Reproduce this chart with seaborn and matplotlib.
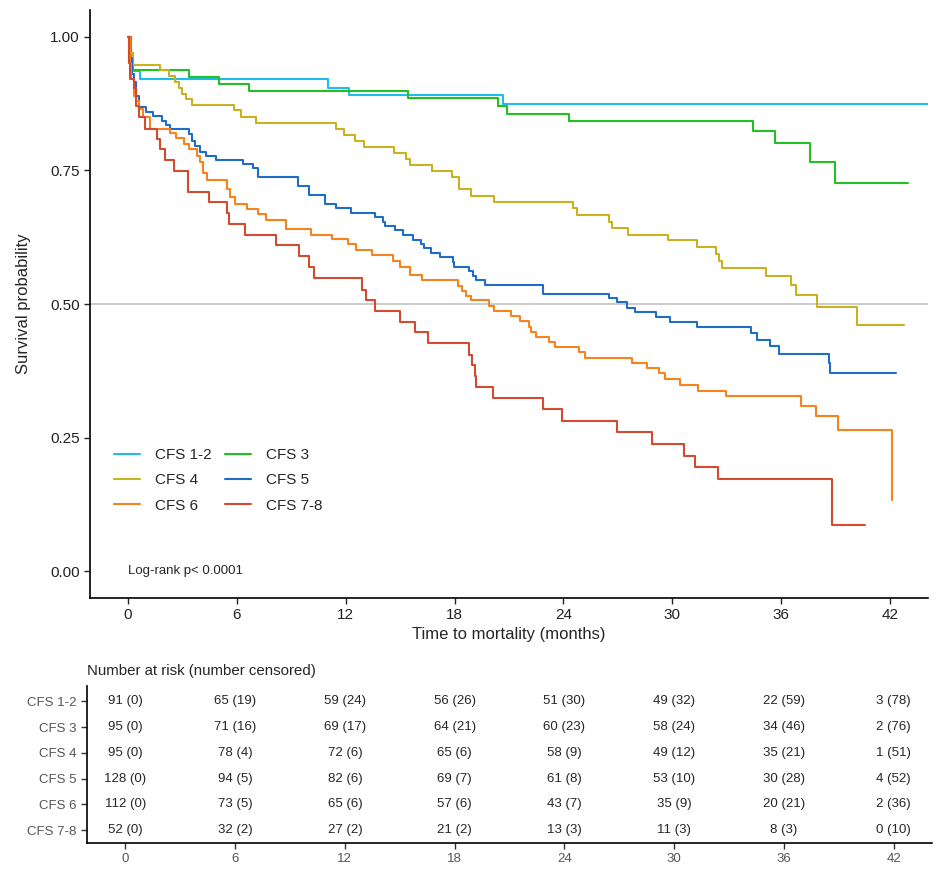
import numpy as np
import pandas as pd
import seaborn as sns
import matplotlib.pyplot as plt

groups = ["CFS 1-2", "CFS 3", "CFS 4", "CFS 5", "CFS 6", "CFS 7-8"]
colors = ["#1ebbee", "#22c022", "#c9b220", "#1f6dc4", "#f7831f", "#d24b30"]

# Kaplan-Meier steps: time of drop (months) and survival after it
t_cfs12 = [0, 0.15, 0.64, 11.0, 12.2, 20.66, 44.5]
s_cfs12 = [1.0, 0.936, 0.920, 0.905, 0.891, 0.875, 0.875]

t_cfs3 = [0, 0.18, 0.27, 3.36, 5.0, 6.64, 15.43, 20.38, 20.87, 24.33, 34.47, 35.65, 37.59, 38.97, 42.98]
s_cfs3 = [1.0, 0.969, 0.937, 0.924, 0.911, 0.898, 0.885, 0.871, 0.856, 0.842, 0.824, 0.802, 0.765, 0.7255, 0.7255]

t_cfs4 = [0, 0.1, 0.27, 1.74, 2.24, 2.57, 2.8, 2.99, 3.21, 3.52,
          5.85, 6.22, 7.03, 11.45, 11.9, 12.49, 12.99, 14.64, 15.34, 15.56,
          16.75, 17.85, 18.22, 18.88, 20.2, 24.51, 24.75, 26.53, 26.66, 27.57,
          29.79, 31.35, 32.40, 32.58, 32.73, 35.15, 36.56, 36.8, 37.99, 40.2, 42.76]
s_cfs4 = [1.0, 0.97, 0.948, 0.937, 0.926, 0.915, 0.904, 0.893, 0.884, 0.872,
          0.862, 0.850, 0.838, 0.827, 0.816, 0.805, 0.794, 0.782, 0.771, 0.760,
          0.748, 0.737, 0.715, 0.702, 0.691, 0.679, 0.667, 0.654, 0.642, 0.630,
          0.619, 0.606, 0.593, 0.580, 0.568, 0.552, 0.535, 0.517, 0.494, 0.460, 0.460]

t_cfs5 = [0, 0.1, 0.2, 0.3, 0.45, 0.6, 1.0, 1.36, 1.85, 2.1,
          2.29, 3.38, 3.52, 3.69, 3.96, 4.28, 4.84, 6.31, 6.9, 7.17,
          9.37, 9.98, 10.84, 11.48, 12.27, 13.63, 14.05, 14.14, 14.69, 15.15,
          15.7, 16.16, 16.3, 16.71, 17.17, 17.9, 17.99, 18.82, 19.0, 19.2,
          19.65, 22.9, 26.49, 26.98, 27.5, 27.96, 29.1, 29.87, 31.35, 34.32,
          34.69, 35.37, 35.88, 38.63, 38.7, 42.36]
s_cfs5 = [1.0, 0.96, 0.93, 0.915, 0.89, 0.868, 0.859, 0.851, 0.842, 0.834,
          0.827, 0.818, 0.805, 0.795, 0.785, 0.777, 0.769, 0.762, 0.754, 0.737,
          0.721, 0.704, 0.688, 0.679, 0.671, 0.662, 0.653, 0.646, 0.638, 0.629,
          0.620, 0.612, 0.604, 0.596, 0.587, 0.578, 0.570, 0.562, 0.552, 0.544,
          0.535, 0.519, 0.512, 0.503, 0.493, 0.485, 0.476, 0.467, 0.457, 0.446,
          0.433, 0.421, 0.407, 0.390, 0.370, 0.370]

t_cfs6 = [0, 0.08, 0.15, 0.3, 0.45, 0.6, 0.8, 1.19, 2.31, 2.64,
          3.08, 3.37, 3.78, 3.96, 4.15, 4.33, 5.43, 5.61, 5.89, 6.53,
          7.17, 7.63, 8.73, 10.1, 11.24, 12.12, 12.58, 13.46, 14.6, 15.0,
          15.52, 16.21, 18.18, 18.42, 18.64, 18.91, 19.9, 20.2, 21.12, 21.63,
          22.09, 22.2, 22.49, 23.22, 23.55, 24.88, 25.21, 27.78, 28.63, 29.28,
          29.61, 30.42, 31.44, 32.95, 37.11, 37.9, 39.13, 42.12]
s_cfs6 = [1.0, 0.95, 0.921, 0.890, 0.880, 0.865, 0.850, 0.827, 0.820, 0.810,
          0.799, 0.790, 0.777, 0.765, 0.746, 0.732, 0.715, 0.700, 0.687, 0.677,
          0.668, 0.657, 0.640, 0.629, 0.621, 0.612, 0.601, 0.591, 0.580, 0.570,
          0.555, 0.544, 0.533, 0.524, 0.515, 0.507, 0.497, 0.486, 0.478, 0.468,
          0.457, 0.447, 0.438, 0.429, 0.419, 0.410, 0.399, 0.390, 0.380, 0.370,
          0.360, 0.348, 0.338, 0.327, 0.310, 0.290, 0.265, 0.133]

t_cfs78 = [0, 0.06, 0.1, 0.33, 0.45, 0.6, 0.92, 1.58, 1.76, 2.04,
           2.55, 3.28, 4.46, 5.43, 5.57, 6.46, 8.18, 9.41, 9.98, 10.25,
           12.91, 13.1, 13.6, 14.97, 15.83, 16.53, 18.77, 18.95, 19.15, 19.2,
           20.1, 22.85, 23.92, 26.93, 28.86, 30.65, 31.26, 32.54, 38.78, 40.6]
s_cfs78 = [1.0, 0.95, 0.921, 0.905, 0.871, 0.850, 0.827, 0.809, 0.790, 0.769,
           0.748, 0.710, 0.690, 0.670, 0.650, 0.629, 0.610, 0.589, 0.569, 0.548,
           0.527, 0.508, 0.486, 0.467, 0.447, 0.427, 0.405, 0.385, 0.365, 0.345,
           0.324, 0.304, 0.282, 0.260, 0.238, 0.216, 0.195, 0.173, 0.086, 0.086]

# risk table
risk_times = [0, 6, 12, 18, 24, 30, 36, 42]
at_risk = {
    "CFS 1-2": [91, 65, 59, 56, 51, 49, 22, 3],
    "CFS 3": [95, 71, 69, 64, 60, 58, 34, 2],
    "CFS 4": [95, 78, 72, 65, 58, 49, 35, 1],
    "CFS 5": [128, 94, 82, 69, 61, 53, 30, 4],
    "CFS 6": [112, 73, 65, 57, 43, 35, 20, 2],
    "CFS 7-8": [52, 32, 27, 21, 13, 11, 8, 0],
}
censored = {
    "CFS 1-2": [0, 19, 24, 26, 30, 32, 59, 78],
    "CFS 3": [0, 16, 17, 21, 23, 24, 46, 76],
    "CFS 4": [0, 4, 6, 6, 9, 12, 21, 51],
    "CFS 5": [0, 5, 6, 7, 8, 10, 28, 52],
    "CFS 6": [0, 5, 6, 6, 7, 9, 21, 36],
    "CFS 7-8": [0, 2, 2, 2, 3, 3, 3, 10],
}

curves = {
    "CFS 1-2": (t_cfs12, s_cfs12),
    "CFS 3": (t_cfs3, s_cfs3),
    "CFS 4": (t_cfs4, s_cfs4),
    "CFS 5": (t_cfs5, s_cfs5),
    "CFS 6": (t_cfs6, s_cfs6),
    "CFS 7-8": (t_cfs78, s_cfs78),
}

rows = []
for g in groups:
    tt, ss = curves[g]
    for t, s in zip(tt, ss):
        rows.append({"time": t, "surv": s, "group": g})
df = pd.DataFrame(rows)

sns.set_style("ticks")
plt.rcParams["font.family"] = ["Liberation Sans", "DejaVu Sans"]

fig = plt.figure(figsize=(9.4, 8.73), dpi=100)
ax = fig.add_axes([90 / 940, 1 - 598 / 873, 838 / 940, 588 / 873])

ax.axhline(0.5, color="#bdbdbd", lw=1.1, zorder=1)
sns.lineplot(data=df, x="time", y="surv", hue="group", hue_order=groups,
             palette=colors, estimator=None, sort=False, drawstyle="steps-post",
             lw=1.5, ax=ax)

handles, labels = ax.get_legend_handles_labels()
order = [0, 2, 4, 1, 3, 5]
ax.legend([handles[i] for i in order], [labels[i] for i in order], ncol=2,
          frameon=False, loc="upper left", bbox_to_anchor=(0.0125, 0.278),
          fontsize=11, handlelength=1.7, handletextpad=1.0,
          columnspacing=0.85, labelspacing=0.73)

ax.set_xlim(-2.1, 44.1)
ax.set_ylim(-0.05, 1.05)
ax.set_xticks(risk_times)
ax.set_yticks([0, 0.25, 0.5, 0.75, 1.0])
ax.set_yticklabels(["0.00", "0.25", "0.50", "0.75", "1.00"])
ax.tick_params(labelsize=11, colors="#222222", width=1, length=4)
ax.set_xlabel("Time to mortality (months)", fontsize=12, labelpad=3)
ax.set_ylabel("Survival probability", fontsize=12, labelpad=14)
for sp in ["left", "bottom"]:
    ax.spines[sp].set_linewidth(1.2)
    ax.spines[sp].set_color("black")
sns.despine(ax=ax)
ax.text(0, 0.0, "Log-rank p< 0.0001", fontsize=9.5, ha="left", va="center")

# number at risk table
tab = fig.add_axes([87 / 940, 1 - 843 / 873, 845 / 940, 157 / 873])
for i, g in enumerate(groups):
    for j, t in enumerate(risk_times):
        tab.text(t, i, f"{at_risk[g][j]} ({censored[g][j]})", ha="center",
                 va="center", fontsize=9.5)
tab.set_xlim(-2.1, 44.1)
tab.set_ylim(5.5, -0.6)
tab.set_yticks(range(len(groups)))
tab.set_yticklabels(groups)
tab.set_xticks(risk_times)
tab.tick_params(labelsize=9.5, colors="#555555", width=1, length=4)
tab.tick_params(axis="both", color="#333333")
for sp in ["left", "bottom"]:
    tab.spines[sp].set_linewidth(1.2)
    tab.spines[sp].set_color("black")
sns.despine(ax=tab)
tab.set_title("Number at risk (number censored)", loc="left", fontsize=10.8,
              x=0.0, pad=8)

fig.savefig("out.png", dpi=100)
